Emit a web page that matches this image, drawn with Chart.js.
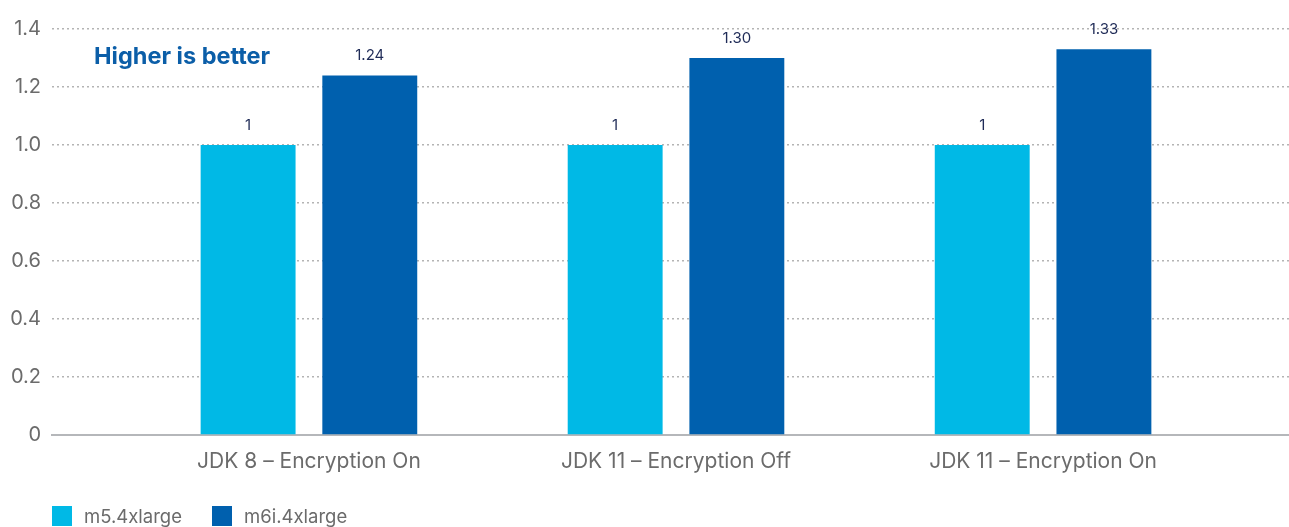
<!DOCTYPE html>
<html>
<head>
<meta charset="utf-8">
<script src="https://cdn.jsdelivr.net/npm/chart.js@4.4.0/dist/chart.umd.min.js"></script>
<style>
  html, body { margin: 0; padding: 0; background: #fff; }
  #wrap { position: relative; width: 1289px; height: 527px; overflow: hidden; }
  #legend { position: absolute; left: 52px; top: 506px; display: flex; font: 18.5px Inter, sans-serif; color: #6b6b6b; }
  #legend .item { display: flex; align-items: center; margin-right: 30px; height: 20px; }
  #legend .box { width: 20px; height: 20px; margin-right: 12px; }
</style>
</head>
<body>
<div id="wrap">
  <canvas id="myChart" width="1289" height="527"></canvas>
  <div id="legend"></div>
</div>
<script>
// data
var categories = ["JDK 8 \u2013 Encryption On", "JDK 11 \u2013 Encryption Off", "JDK 11 \u2013 Encryption On"];
var seriesNames = ["m5.4xlarge", "m6i.4xlarge"];
var m5Values = [1, 1, 1];
var m6iValues = [1.24, 1.30, 1.33];
var yTickLabels = ["0", "0.2", "0.4", "0.6", "0.8", "1.0", "1.2", "1.4"];
var barColors = ["#00b9e6", "#0060ae"];

function toPoints(values) {
  return values.map(function (v, i) { return { x: i, y: v }; });
}
function fmt(v) {
  return Number.isInteger(v) ? String(v) : v.toFixed(2);
}

// value labels above bars + note
var extras = {
  id: "extras",
  afterDatasetsDraw: function (chart) {
    var ctx = chart.ctx;
    ctx.save();
    ctx.font = "15px Inter, sans-serif";
    ctx.fillStyle = "#1f2b57";
    ctx.textAlign = "center";
    ctx.textBaseline = "alphabetic";
    chart.data.datasets.forEach(function (ds, i) {
      chart.getDatasetMeta(i).data.forEach(function (bar, j) {
        ctx.fillText(fmt(ds.data[j].y), bar.x, bar.y - 15);
      });
    });
    ctx.font = "bold 23.5px Inter, sans-serif";
    ctx.fillStyle = "#0b5ea8";
    ctx.textAlign = "left";
    ctx.textBaseline = "middle";
    ctx.fillText("Higher is better", 94, 57);
    ctx.restore();
  }
};

var chart = new Chart("myChart", {
  type: "bar",
  data: {
    datasets: [
      { label: seriesNames[0], data: toPoints(m5Values), backgroundColor: barColors[0] },
      { label: seriesNames[1], data: toPoints(m6iValues), backgroundColor: barColors[1] }
    ]
  },
  options: {
    responsive: false,
    animation: false,
    categoryPercentage: 0.663,
    barPercentage: 0.78,
    layout: { padding: { top: 29, right: 0, bottom: 0, left: 0 } },
    plugins: {
      legend: { display: false },
      tooltip: { enabled: false }
    },
    scales: {
      x: {
        type: "linear",
        offset: false,
        min: -0.7,
        max: 2.67,
        afterBuildTicks: function (scale) {
          scale.ticks = categories.map(function (c, i) { return { value: i }; });
        },
        afterFit: function (scale) { scale.height = 92; },
        grid: { display: false, drawTicks: false, offset: false },
        border: { display: true, color: "#b5b7ba", width: 2 },
        ticks: {
          padding: 14,
          color: "#6b6b6b",
          font: { family: "Inter", size: 21 },
          callback: function (v) { return categories[v]; }
        }
      },
      y: {
        min: 0,
        max: 1.4,
        afterBuildTicks: function (scale) {
          scale.ticks = yTickLabels.map(function (t) { return { value: parseFloat(t) }; });
        },
        afterFit: function (scale) { scale.width = 52; },
        grid: {
          drawTicks: false,
          lineWidth: 1.5,
          color: function (c) { return c.tick && c.tick.value === 0 ? "rgba(0,0,0,0)" : "#b4b4b4"; }
        },
        border: { display: false, dash: [2, 3] },
        ticks: {
          padding: 11,
          color: "#6b6b6b",
          font: { family: "Inter", size: 20 },
          callback: function (v, i) { return yTickLabels[i]; }
        }
      }
    }
  },
  plugins: [extras]
});

// legend
var legend = document.getElementById("legend");
chart.data.datasets.forEach(function (ds) {
  var item = document.createElement("div");
  item.className = "item";
  item.innerHTML = '<span class="box" style="background:' + ds.backgroundColor + '"></span><span>' + ds.label + '</span>';
  legend.appendChild(item);
});
</script>
</body>
</html>
